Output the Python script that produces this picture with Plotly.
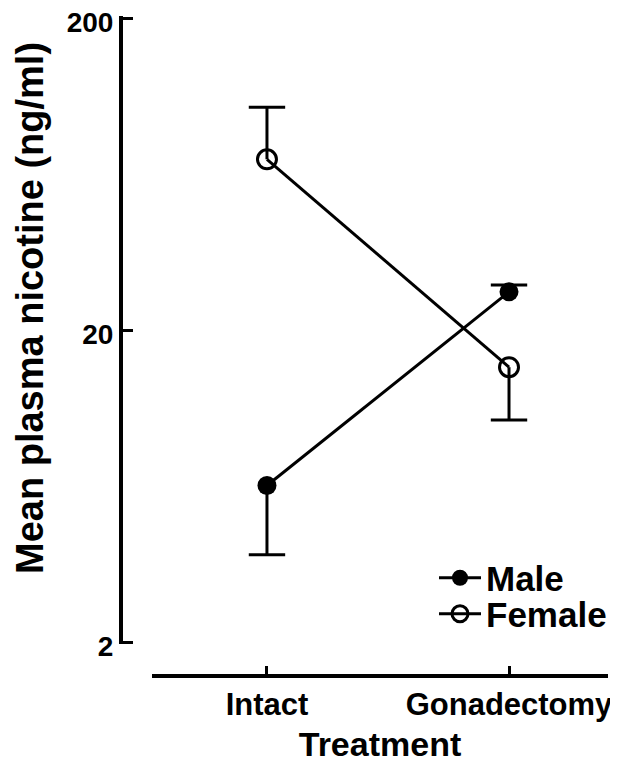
import math
import plotly.graph_objects as go

categories = ["Intact", "Gonadectomy"]
male_mean = [6.35, 26.5]
male_err_plus = [0, 1.4]
male_err_minus = [2.54, 0]
female_mean = [70.5, 15.2]
female_err_plus = [33.0, 0]
female_err_minus = [0, 4.9]
y_tickvals = [2, 20, 200]
y_ticktext = ["2", "20", "200"]
y_title = "Mean plasma nicotine (ng/ml)"
x_title = "Treatment"

xpos = list(range(len(categories)))
FONT = "Liberation Sans, Arial, sans-serif"

# page body has an 8px margin; work in reference pixels and subtract it
OFF = 8
W, H = 618 - OFF, 772 - OFF


def px(x):
    return (x - OFF) / W


def py(y):
    return 1 - (y - OFF) / H


def err_segments(means, plus, minus):
    """One-sided error bars: stem from the mean to the end, cap at the end."""
    sx, sy, cx, cy = [], [], [], []
    for x, m, p, n in zip(xpos, means, plus, minus):
        for end in ([m + p] if p else []) + ([m - n] if n else []):
            sx += [x, x, None]
            sy += [m, end, None]
            cx.append(x)
            cy.append(end)
    return sx, sy, cx, cy


fig = go.Figure()
for means, plus, minus in ((male_mean, male_err_plus, male_err_minus),
                           (female_mean, female_err_plus, female_err_minus)):
    sx, sy, cx, cy = err_segments(means, plus, minus)
    fig.add_trace(go.Scatter(x=sx, y=sy, mode="lines", showlegend=False, hoverinfo="skip",
                             line=dict(color="black", width=3)))
    fig.add_trace(go.Scatter(x=cx, y=cy, mode="markers", showlegend=False, hoverinfo="skip",
                             marker=dict(symbol="line-ew", size=26, color="black",
                                         line=dict(color="black", width=3))))

fig.add_trace(go.Scatter(
    x=xpos, y=male_mean, name="Male", mode="lines+markers", legend="legend",
    line=dict(color="black", width=3),
    marker=dict(symbol="circle", size=19, color="black"),
))
fig.add_trace(go.Scatter(
    x=xpos, y=female_mean, name="Female", mode="lines+markers", legend="legend2",
    line=dict(color="black", width=3),
    marker=dict(symbol="circle-open", size=19, color="black", line=dict(width=3, color="black")),
))

legfont = dict(family=FONT, size=35, color="black", weight="bold")
# y axis: 2 at 642px, 200 at 18px; pad the range by 2px each side so the end ticks survive
top_px, bot_px, pad = 18, 642, 2
dec = (bot_px - top_px) / 2.0
eps = pad / dec
fig.update_layout(
    width=W, height=H,
    margin=dict(l=0, r=0, t=0, b=0),
    paper_bgcolor="white", plot_bgcolor="white",
    font=dict(family=FONT, color="black", size=28),
    showlegend=True,
    legend=dict(x=px(434), y=py(578), xanchor="left", yanchor="middle",
                font=legfont, bgcolor="rgba(0,0,0,0)", itemwidth=42),
    legend2=dict(x=px(434), y=py(614), xanchor="left", yanchor="middle",
                 font=legfont, bgcolor="rgba(0,0,0,0)", itemwidth=42),
    xaxis=dict(
        domain=[px(152), px(608)], anchor="free", position=py(676),
        range=[-0.475, 1.409], tickvals=xpos, ticktext=categories,
        showline=True, linecolor="black", linewidth=4,
        ticks="inside", ticklen=8, tickwidth=3, tickcolor="black",
        showgrid=False, zeroline=False, automargin=False, ticklabeloverflow="allow",
        tickfont=dict(family=FONT, size=31, weight="bold"),
        title=dict(text=x_title, standoff=10,
                   font=dict(family=FONT, size=34, weight="bold")),
    ),
    yaxis=dict(
        domain=[py(bot_px + pad), py(top_px - pad)], anchor="free", position=px(121),
        type="log", range=[math.log10(min(y_tickvals)) - eps, math.log10(max(y_tickvals)) + eps],
        tickvals=y_tickvals, ticktext=y_ticktext,
        showline=True, linecolor="black", linewidth=4,
        ticks="inside", ticklen=10, tickwidth=3, tickcolor="black",
        showgrid=False, zeroline=False, automargin=False, ticklabeloverflow="allow",
        tickfont=dict(family=FONT, size=28, weight="bold"), ticklabelshift=4,
    ),
    annotations=[dict(
        text=y_title, textangle=-90, showarrow=False,
        xref="paper", yref="paper", x=px(30), y=py(308),
        xanchor="center", yanchor="middle",
        font=dict(family=FONT, size=38, weight="bold", color="black"),
    )],
)

fig.write_html("out.html")
